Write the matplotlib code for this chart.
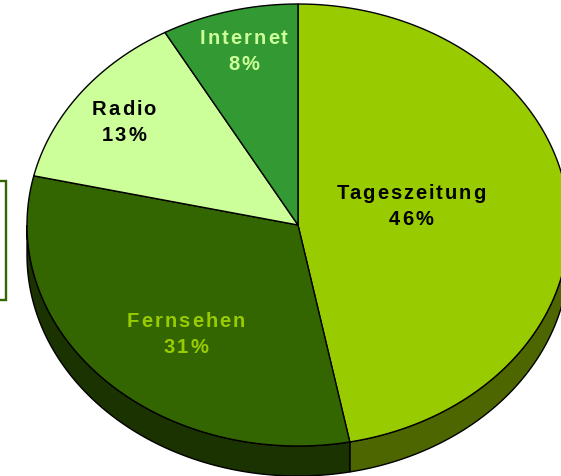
import numpy as np
import matplotlib
matplotlib.use("Agg")
import matplotlib.pyplot as plt
from matplotlib.patches import Polygon, Rectangle
from matplotlib.font_manager import FontProperties

# Data
labels = ["Tageszeitung", "Fernsehen", "Radio", "Internet"]
values = [46, 31, 13, 8]
pct_labels = ["46%", "31%", "13%", "8%"]

top_colors = ["#99cc00", "#336600", "#ccff99", "#339933"]
side_colors = ["#4d6600", "#1a3300", "#668033", "#1a4d1a"]
text_colors = ["#000000", "#99cc00", "#000000", "#ccff99"]

# Geometry of the tilted pie (pixel units)
cx, cy = 298, 226
rx, ry = 271, 221
depth = 30

# label positions (centre x, baselines of the two lines)
label_pos = [(411, 199, 225), (186, 327, 353), (124, 115, 141.5), (244, 44, 70)]

fig = plt.figure(figsize=(5.61, 4.77), dpi=100)
ax = fig.add_axes([0, 0, 1, 1])
ax.set_xlim(0, 561)
ax.set_ylim(477, 0)
ax.axis("off")


def ell(theta, dy=0):
    t = np.radians(theta)
    return np.column_stack([cx + rx * np.cos(t), cy - ry * np.sin(t) + dy])


fracs = np.array(values, dtype=float) / sum(values)
bounds = 90 - 360 * np.concatenate([[0], np.cumsum(fracs)])

# side walls (front half only)
for i in range(len(values)):
    hi, lo = bounds[i], bounds[i + 1]
    a, b = max(lo, -180), min(hi, 0)
    if a >= b:
        continue
    th = np.linspace(a, b, 200)
    pts = np.vstack([ell(th), ell(th[::-1], depth)])
    ax.add_patch(Polygon(pts, closed=True, facecolor=side_colors[i],
                         edgecolor="black", linewidth=1.0, zorder=1))

# top face
for i in range(len(values)):
    hi, lo = bounds[i], bounds[i + 1]
    th = np.linspace(hi, lo, 300)
    pts = np.vstack([[cx, cy], ell(th)])
    ax.add_patch(Polygon(pts, closed=True, facecolor=top_colors[i],
                         edgecolor="black", linewidth=1.0, zorder=2))

# cut-off legend frame on the left
ax.add_patch(Rectangle((-20, 182), 26.3, 118.5, fill=False,
                       edgecolor="#336600", linewidth=1.7, zorder=3))

fp = FontProperties(family="Liberation Sans", weight="bold", size=14.5)
renderer = fig.canvas.get_renderer()


def width(s):
    w, h, d = renderer.get_text_width_height_descent(s, fp, ismath=False)
    return w


def spaced_text(x, y, s, color, sp=2.0):
    total = width(s) + sp * (len(s) - 1)
    x0 = x - total / 2
    for i, ch in enumerate(s):
        xi = x0 + width(s[:i + 1]) - width(ch) + sp * i
        ax.text(xi, y, ch, fontproperties=fp, color=color,
                ha="left", va="baseline", zorder=5)


for i in range(len(values)):
    x, y1, y2 = label_pos[i]
    spaced_text(x, y1, labels[i], text_colors[i])
    spaced_text(x, y2, pct_labels[i], text_colors[i])

fig.savefig("out.png", dpi=100)
